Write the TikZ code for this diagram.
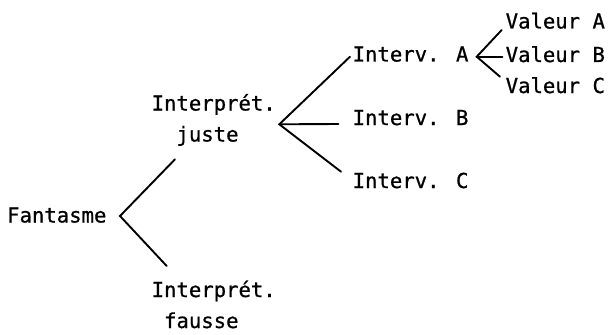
\documentclass[tikz,border=0pt]{standalone}
\usepackage{fontspec}
\newfontfamily\typewriter{DejaVu Sans Mono}[FakeBold=0.8]
\begin{document}
\begin{tikzpicture}[x=1pt,y=-1pt,
  label text/.style={inner sep=0pt, anchor=base west,
    font=\typewriter\fontsize{20.6}{31}\selectfont},
  two line/.style={label text, align=left},
  branch/.style={line width=1.9pt, line cap=round, line join=miter}]
  \useasboundingbox (0,0) rectangle (609,334);

  % tree labels (two-line labels are placed by the baseline of their last line;
  % second lines are indented by whole typewriter columns)
  \node[label text] (fan) at (7,222.5) {Fantasme};
  \node[two line] (ij) at (151.5,141.5) {Interprét.\\\phantom{In}juste};
  \node[two line] (ifx) at (151.5,328) {Interprét.\\\phantom{I}fausse};
  \node[label text] (ia) at (352.5,61.5) {Interv. A};
  \node[label text] (ib) at (352.5,125) {Interv. B};
  \node[label text] (ic) at (352.5,188) {Interv. C};
  \node[label text] (va) at (505.5,28.5) {Valeur A};
  \node[label text] (vb) at (505.5,62) {Valeur B};
  \node[label text] (vc) at (505.5,93) {Valeur C};

  % fork points and branch ends
  \coordinate (f0) at (120,216);
  \coordinate (f0u) at (175,159.3);
  \coordinate (f0d) at (166.7,266);
  \coordinate (f1) at (279.3,124.3);
  \coordinate (f1u) at (350,56.7);
  \coordinate (f1m) at (338.3,124);
  \coordinate (f1d) at (341,171.7);
  \coordinate (f2) at (476.7,56.7);
  \coordinate (f2u) at (501.7,30);
  \coordinate (f2m) at (502.3,56.7);
  \coordinate (f2d) at (500,76.7);

  % branches
  \draw[branch] (f0u) -- (f0) -- (f0d);
  \draw[branch] (f1u) -- (f1) -- (f1d);
  \draw[branch] (f1) -- (f1m);
  \draw[branch] (f2u) -- (f2) -- (f2d);
  \draw[branch] (f2) -- (f2m);
\end{tikzpicture}
\end{document}
